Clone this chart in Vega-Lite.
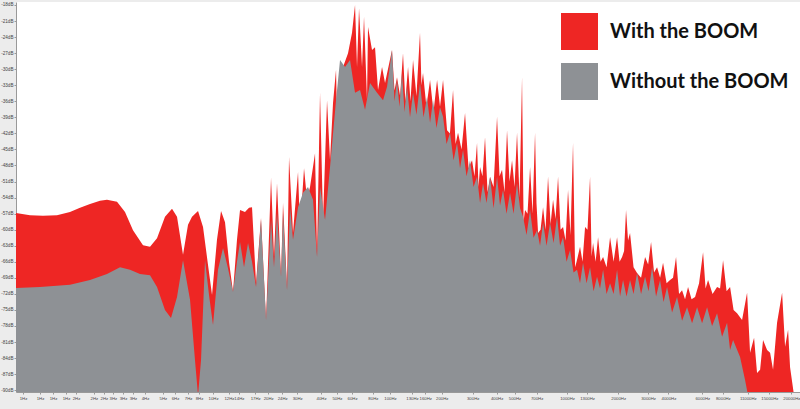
{
  "$schema": "https://vega.github.io/schema/vega-lite/v6.json",
  "width": 784,
  "height": 390,
  "autosize": {"type": "none"},
  "padding": {"left": 16, "top": 2, "right": 0, "bottom": 17},
  "background": "#ececec",
  "datasets": {
    "withBoom": [
      {"hz":0.771,"db":-56.9},{"hz":0.925,"db":-57.3},{"hz":1.095,"db":-57.4},{"hz":1.314,"db":-57.3},{"hz":1.556,"db":-56.7},{"hz":1.773,"db":-55.9},{"hz":2.019,"db":-55.2},{"hz":2.299,"db":-54.6},{"hz":2.518,"db":-54.4},{"hz":2.869,"db":-54.8},{"hz":3.183,"db":-56.7},{"hz":3.532,"db":-60.1},{"hz":4.023,"db":-62.9},{"hz":4.407,"db":-63.2},{"hz":4.827,"db":-61.6},{"hz":5.355,"db":-57.6},{"hz":5.867,"db":-56.1},{"hz":6.261,"db":-57.6},{"hz":6.769,"db":-64.7},{"hz":7.225,"db":-59.1},{"hz":7.61,"db":-57.6},{"hz":8.23,"db":-56.5},{"hz":8.782,"db":-59.5},{"hz":9.371,"db":-66.6},{"hz":9.872,"db":-72.2},{"hz":10.53,"db":-61.9},{"hz":11.1,"db":-56.5},{"hz":11.69,"db":-58.6},{"hz":12.31,"db":-66.0},{"hz":12.97,"db":-71.6},{"hz":13.66,"db":-61.9},{"hz":14.21,"db":-56.3},{"hz":15.16,"db":-56.7},{"hz":15.97,"db":-55.9},{"hz":16.61,"db":-55.8},{"hz":17.5,"db":-70.0},{"hz":18.67,"db":-57.8},{"hz":19.93,"db":-76.9},{"hz":21.27,"db":-50.3},{"hz":22.11,"db":-65.1},{"hz":22.99,"db":-51.3},{"hz":24.23,"db":-68.8},{"hz":24.86,"db":-55.0},{"hz":26.19,"db":-70.7},{"hz":26.88,"db":-46.4},{"hz":28.31,"db":-60.6},{"hz":30.22,"db":-49.2},{"hz":31.01,"db":-60.1},{"hz":32.67,"db":-48.5},{"hz":33.97,"db":-54.4},{"hz":35.32,"db":-52.0},{"hz":37.7,"db":-45.7},{"hz":38.69,"db":-64.4},{"hz":40.23,"db":-34.4},{"hz":41.83,"db":-58.2},{"hz":44.07,"db":-35.8},{"hz":45.82,"db":-47.0},{"hz":47.64,"db":-36.3},{"hz":49.54,"db":-30.1},{"hz":50.84,"db":-48.3},{"hz":54.27,"db":-29.6},{"hz":57.9,"db":-27.0},{"hz":61.0,"db":-23.2},{"hz":63.43,"db":-18.0},{"hz":65.1,"db":-29.6},{"hz":66.82,"db":-18.6},{"hz":69.47,"db":-29.6},{"hz":71.3,"db":-20.2},{"hz":74.14,"db":-35.8},{"hz":75.1,"db":-22.1},{"hz":79.11,"db":-26.4},{"hz":82.27,"db":-25.9},{"hz":85.54,"db":-33.9},{"hz":90.12,"db":-29.6},{"hz":93.71,"db":-32.6},{"hz":102.6,"db":-26.4},{"hz":106,"db":-34},{"hz":109.5,"db":-31.5},{"hz":114,"db":-35},{"hz":118.4,"db":-27.0},{"hz":122,"db":-36},{"hz":126.4,"db":-29.6},{"hz":130.5,"db":-36},{"hz":134.9,"db":-28.3},{"hz":141,"db":-35},{"hz":147.7,"db":-23.2},{"hz":150.5,"db":-33},{"hz":153.6,"db":-30.7},{"hz":160.5,"db":-37},{"hz":168.3,"db":-32.0},{"hz":176,"db":-38},{"hz":184.4,"db":-32.0},{"hz":191.6,"db":-37},{"hz":199.3,"db":-32.0},{"hz":209.9,"db":-41.4},{"hz":218,"db":-42},{"hz":227.0,"db":-33.9},{"hz":234.5,"db":-44},{"hz":242.2,"db":-41.9},{"hz":253.5,"db":-45},{"hz":265.3,"db":-38.2},{"hz":277.6,"db":-48.5},{"hz":290.6,"db":-47.0},{"hz":300,"db":-50},{"hz":310.1,"db":-43.8},{"hz":316,"db":-52},{"hz":322.4,"db":-48.3},{"hz":333,"db":-50},{"hz":344.1,"db":-42.7},{"hz":355.5,"db":-53},{"hz":367.3,"db":-50.1},{"hz":384.4,"db":-52},{"hz":402.3,"db":-38.9},{"hz":415.5,"db":-50},{"hz":429.3,"db":-48.8},{"hz":443.5,"db":-53},{"hz":458.1,"db":-41.4},{"hz":473,"db":-51},{"hz":489.0,"db":-47.0},{"hz":505,"db":-52},{"hz":521.8,"db":-41.9},{"hz":539,"db":-54},{"hz":556.9,"db":-31.5},{"hz":568,"db":-58.5},{"hz":579.0,"db":-56.3},{"hz":598,"db":-57},{"hz":618.1,"db":-48.3},{"hz":638.5,"db":-57},{"hz":659.5,"db":-41.9},{"hz":672,"db":-55},{"hz":685.8,"db":-60.6},{"hz":708.5,"db":-60},{"hz":731.9,"db":-55.8},{"hz":756,"db":-60},{"hz":781.0,"db":-50.1},{"hz":807,"db":-59},{"hz":833.6,"db":-54.4},{"hz":861,"db":-58},{"hz":889.6,"db":-50.1},{"hz":919,"db":-60},{"hz":949.3,"db":-59.5},{"hz":981,"db":-62},{"hz":1013,"db":-52.6},{"hz":1046,"db":-61},{"hz":1081,"db":-43.8},{"hz":1110,"db":-67.0},{"hz":1132,"db":-66},{"hz":1184,"db":-63.2},{"hz":1223,"db":-66},{"hz":1264,"db":-59.5},{"hz":1305,"db":-60},{"hz":1349,"db":-50.1},{"hz":1376,"db":-65},{"hz":1403,"db":-62.5},{"hz":1450,"db":-66},{"hz":1497,"db":-61.4},{"hz":1546,"db":-66},{"hz":1598,"db":-65.1},{"hz":1672,"db":-67},{"hz":1750,"db":-61.4},{"hz":1832,"db":-66},{"hz":1917,"db":-61.4},{"hz":1980,"db":-66},{"hz":2046,"db":-65.1},{"hz":2100,"db":-64},{"hz":2154,"db":-56.3},{"hz":2211,"db":-62},{"hz":2269,"db":-60.6},{"hz":2375,"db":-67},{"hz":2486,"db":-68.1},{"hz":2619,"db":-69},{"hz":2759,"db":-65.1},{"hz":2871,"db":-66.5},{"hz":2983,"db":-62.3},{"hz":3101,"db":-68},{"hz":3225,"db":-67.0},{"hz":3355,"db":-69},{"hz":3486,"db":-66.2},{"hz":3650,"db":-70},{"hz":3818,"db":-69.4},{"hz":3970,"db":-69},{"hz":4128,"db":-65.1},{"hz":4292,"db":-72},{"hz":4463,"db":-71.3},{"hz":4641,"db":-73},{"hz":4826,"db":-70.7},{"hz":5050,"db":-73},{"hz":5287,"db":-72.6},{"hz":5570,"db":-70},{"hz":5867,"db":-64.2},{"hz":6061,"db":-71},{"hz":6261,"db":-69.4},{"hz":6638,"db":-72},{"hz":7039,"db":-70.7},{"hz":7319,"db":-71},{"hz":7610,"db":-65.7},{"hz":7966,"db":-71.5},{"hz":8336,"db":-70.7},{"hz":8725,"db":-75},{"hz":9131,"db":-75.6},{"hz":9744,"db":-76.9},{"hz":10400,"db":-71.8},{"hz":10810,"db":-83.0},{"hz":11390,"db":-80.2},{"hz":11840,"db":-86.8},{"hz":12320,"db":-86.2},{"hz":12800,"db":-80.6},{"hz":13490,"db":-82.5},{"hz":14030,"db":-83.0},{"hz":14580,"db":-86.2},{"hz":15360,"db":-77.4},{"hz":16400,"db":-71.8},{"hz":17050,"db":-81.9},{"hz":17730,"db":-78.7},{"hz":18190,"db":-85.7},{"hz":19160,"db":-91},{"hz":20700,"db":-91}
    ],
    "withoutBoom": [
      {"hz":0.771,"db":-70.9},{"hz":1.053,"db":-70.7},{"hz":1.556,"db":-70.3},{"hz":2.019,"db":-69.4},{"hz":2.518,"db":-68.3},{"hz":2.983,"db":-67.0},{"hz":3.397,"db":-67.5},{"hz":3.868,"db":-68.3},{"hz":4.407,"db":-68.5},{"hz":4.827,"db":-70.7},{"hz":5.355,"db":-75.0},{"hz":5.79,"db":-76.5},{"hz":6.261,"db":-72.6},{"hz":6.769,"db":-65.7},{"hz":7.416,"db":-73.1},{"hz":7.911,"db":-84.4},{"hz":8.23,"db":-91},{"hz":8.555,"db":-84.4},{"hz":9.012,"db":-65.7},{"hz":9.493,"db":-72.2},{"hz":10.0,"db":-77.8},{"hz":10.67,"db":-67.5},{"hz":11.39,"db":-63.4},{"hz":12.15,"db":-67.2},{"hz":12.97,"db":-71.6},{"hz":13.66,"db":-66.0},{"hz":14.21,"db":-62.3},{"hz":14.97,"db":-67.0},{"hz":15.77,"db":-62.5},{"hz":16.61,"db":-66.0},{"hz":17.5,"db":-70.7},{"hz":18.67,"db":-58.2},{"hz":19.93,"db":-76.9},{"hz":21.27,"db":-58.2},{"hz":22.11,"db":-67.0},{"hz":22.99,"db":-56.9},{"hz":24.23,"db":-68.8},{"hz":24.86,"db":-56.9},{"hz":26.19,"db":-71.3},{"hz":27.23,"db":-55.8},{"hz":28.31,"db":-61.9},{"hz":30.22,"db":-55.8},{"hz":32.25,"db":-53.1},{"hz":34.41,"db":-52.0},{"hz":36.73,"db":-54.4},{"hz":38.69,"db":-65.1},{"hz":40.23,"db":-52.0},{"hz":42.94,"db":-58.2},{"hz":45.82,"db":-48.3},{"hz":49.54,"db":-35.8},{"hz":52.19,"db":-28.3},{"hz":55.7,"db":-29.6},{"hz":59.43,"db":-28.3},{"hz":63.43,"db":-34.4},{"hz":67.69,"db":-33.9},{"hz":72.24,"db":-37.6},{"hz":77.09,"db":-32.6},{"hz":84.44,"db":-34.4},{"hz":91.3,"db":-35.8},{"hz":96.18,"db":-33.3},{"hz":102.6,"db":-26.4},{"hz":106,"db":-36},{"hz":109.5,"db":-32.0},{"hz":113,"db":-37},{"hz":116.9,"db":-30.7},{"hz":120.7,"db":-38},{"hz":124.7,"db":-33.3},{"hz":129.7,"db":-39},{"hz":134.9,"db":-34.4},{"hz":141,"db":-38.5},{"hz":147.7,"db":-32.6},{"hz":154.6,"db":-39},{"hz":161.8,"db":-35.2},{"hz":168.3,"db":-40},{"hz":175.0,"db":-35.8},{"hz":183,"db":-41},{"hz":191.6,"db":-37.1},{"hz":199.3,"db":-38.9},{"hz":208.6,"db":-44},{"hz":218.3,"db":-41.9},{"hz":228.5,"db":-47},{"hz":239.1,"db":-43.8},{"hz":248.6,"db":-48.5},{"hz":258.5,"db":-45.1},{"hz":270.5,"db":-50},{"hz":283.1,"db":-47.0},{"hz":296.3,"db":-52},{"hz":310.1,"db":-50.1},{"hz":322.5,"db":-55},{"hz":335.3,"db":-51.3},{"hz":351,"db":-55},{"hz":367.3,"db":-50.1},{"hz":384.4,"db":-56},{"hz":402.3,"db":-50.1},{"hz":418.3,"db":-55.5},{"hz":434.9,"db":-52.6},{"hz":455.2,"db":-57},{"hz":476.4,"db":-53.1},{"hz":498.6,"db":-57},{"hz":521.8,"db":-51.3},{"hz":542.6,"db":-56},{"hz":564.2,"db":-57.6},{"hz":590.5,"db":-61},{"hz":618.1,"db":-56.3},{"hz":646.8,"db":-61.5},{"hz":676.8,"db":-60.1},{"hz":703.8,"db":-63},{"hz":731.9,"db":-58.7},{"hz":766,"db":-63},{"hz":801.7,"db":-58.7},{"hz":839,"db":-62.5},{"hz":877.9,"db":-57.6},{"hz":913,"db":-63},{"hz":949.3,"db":-61.4},{"hz":993.6,"db":-66},{"hz":1040,"db":-63.8},{"hz":1088,"db":-68},{"hz":1139,"db":-67.5},{"hz":1184,"db":-70},{"hz":1231,"db":-66.2},{"hz":1289,"db":-70},{"hz":1349,"db":-67.0},{"hz":1412,"db":-71.5},{"hz":1477,"db":-68.8},{"hz":1536,"db":-71},{"hz":1598,"db":-67.5},{"hz":1672,"db":-72},{"hz":1750,"db":-70.0},{"hz":1832,"db":-72},{"hz":1917,"db":-67.5},{"hz":1993,"db":-72.5},{"hz":2072,"db":-69.4},{"hz":2168,"db":-72.5},{"hz":2269,"db":-69.4},{"hz":2375,"db":-72},{"hz":2486,"db":-68.1},{"hz":2619,"db":-72},{"hz":2759,"db":-68.8},{"hz":2887,"db":-71.5},{"hz":3022,"db":-67.0},{"hz":3183,"db":-72.5},{"hz":3353,"db":-69.4},{"hz":3509,"db":-73.5},{"hz":3673,"db":-70.7},{"hz":3920,"db":-75.5},{"hz":4183,"db":-72.6},{"hz":4464,"db":-77},{"hz":4764,"db":-74.5},{"hz":5085,"db":-77.5},{"hz":5427,"db":-74.5},{"hz":5792,"db":-77.5},{"hz":6181,"db":-74.5},{"hz":6596,"db":-78},{"hz":7039,"db":-75.6},{"hz":7512,"db":-80},{"hz":8017,"db":-77.4},{"hz":8336,"db":-82.5},{"hz":8668,"db":-80.6},{"hz":9493,"db":-83.8},{"hz":10130,"db":-88.1},{"hz":10530,"db":-91},{"hz":20700,"db":-91}
    ]
  },
  "encoding": {
    "x": {
      "field": "hz", "type": "quantitative",
      "scale": {"type": "log", "domain": [0.771, 20700], "nice": false},
      "axis": {
        "title": null, "grid": false,
        "values": [0.845,1.053,1.247,1.477,1.683,2.125,2.42,2.72,3.1,3.53,4.13,5.21,6.1,7.23,8.33,10,12.3,14,17.3,20.5,24.6,29.9,40.8,50.1,61,80,100,133,158,196,293,400,505,673,1000,1297,1944,2870,3740,5810,7590,10500,13900,18500],
        "labelExpr": "['1Hz','1Hz','1Hz','1Hz','2Hz','2Hz','2Hz','3Hz','3Hz','3Hz','4Hz','5Hz','6Hz','7Hz','8Hz','10Hz','12Hz','14Hz','17Hz','20Hz','24Hz','30Hz','40Hz','50Hz','60Hz','80Hz','100Hz','130Hz','160Hz','200Hz','300Hz','400Hz','500Hz','700Hz','1000Hz','1300Hz','2000Hz','3000Hz','4000Hz','6000Hz','8000Hz','11000Hz','15000Hz','20000Hz'][indexof([0.845,1.053,1.247,1.477,1.683,2.125,2.42,2.72,3.1,3.53,4.13,5.21,6.1,7.23,8.33,10,12.3,14,17.3,20.5,24.6,29.9,40.8,50.1,61,80,100,133,158,196,293,400,505,673,1000,1297,1944,2870,3740,5810,7590,10500,13900,18500], datum.value)]",
        "labelFontSize": 4.3, "labelColor": "#444", "labelOverlap": false, "labelFlush": false, "labelBound": false,
        "tickSize": 2, "tickColor": "#999", "domainColor": "#999", "labelPadding": 2
      }
    },
    "y": {
      "field": "db", "type": "quantitative",
      "scale": {"domain": [-90.34, -17.44], "nice": false, "zero": false},
      "axis": {
        "title": null, "grid": false,
        "values": [-18,-21,-24,-27,-30,-33,-36,-39,-42,-45,-48,-51,-54,-57,-60,-63,-66,-69,-72,-75,-78,-81,-84,-87,-90],
        "labelExpr": "datum.value + 'dB'",
        "labelFontSize": 4.6, "labelColor": "#444", "labelOverlap": false, "labelFlush": false, "labelBound": false,
        "tickSize": 2, "tickColor": "#999", "domainColor": "#999", "labelPadding": 1
      }
    },
    "y2": {"datum": -95}
  },
  "layer": [
    {
      "data": {"name": "withBoom"},
      "mark": {"type": "area", "clip": true, "interpolate": "linear", "opacity": 1},
      "encoding": {"color": {"datum": "With the BOOM", "type": "nominal"}}
    },
    {
      "data": {"name": "withoutBoom"},
      "mark": {"type": "area", "clip": true, "interpolate": "linear", "opacity": 1},
      "encoding": {"color": {"datum": "Without the BOOM", "type": "nominal"}}
    }
  ],
  "resolve": {"scale": {"color": "shared"}},
  "config": {
    "view": {"fill": "white", "stroke": null},
    "range": {"category": ["#ee2624", "#8e9195"]},
    "legend": {
      "orient": "none", "legendX": 545, "legendY": 11, "title": null, "padding": 0,
      "symbolType": "square", "symbolSize": 1369, "symbolStrokeWidth": 0, "symbolOpacity": 1,
      "labelFontSize": 20, "labelFont": "Lato", "labelFontWeight": "bold", "labelColor": "#111",
      "labelOffset": 12, "rowPadding": 13, "labelLimit": 300
    }
  }
}
